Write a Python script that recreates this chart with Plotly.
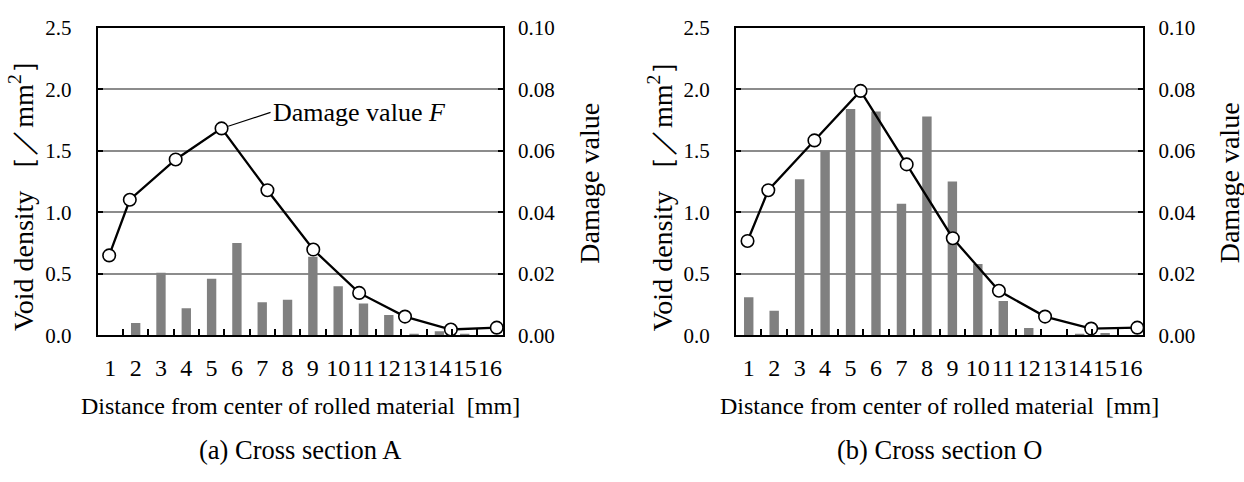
import plotly.graph_objects as go

# Radial bins (1..16) used for the void-density histogram
bins = [str(i) for i in range(1, 17)]

# Void density per bin [1/mm^2]
void_a = [0.0, 0.10, 0.51, 0.22, 0.46, 0.75, 0.27, 0.29, 0.64, 0.40, 0.26, 0.165, 0.008, 0.033, 0.005, 0.0]
void_o = [0.31, 0.20, 1.27, 1.50, 1.84, 1.82, 1.07, 1.78, 1.25, 0.58, 0.28, 0.06, 0.0, 0.005, 0.02, 0.0]

# Damage value F along the radius (distance in mm)
dist = [0.25, 0.7, 1.7, 2.7, 3.7, 4.7, 5.7, 6.7, 7.7, 8.7]
damage_a = [0.0260, 0.0441, 0.0572, 0.0673, 0.0472, 0.0279, 0.0138, 0.0061, 0.0019, 0.0025]
damage_o = [0.0307, 0.0472, 0.0634, 0.0795, 0.0556, 0.0316, 0.0145, 0.0061, 0.0022, 0.0025]

subtitles = ["(a) Cross section A", "(b) Cross section O"]

W, H = 1244, 482
FONT = "Liberation Serif, Times New Roman, serif"
BAR = "#808080"
GRID = "#8c8c8c"
YTICK_SIZE = 21
XTICK_SIZE = 24
VTITLE_SIZE = 28
XTITLE_SIZE = 24
SUB_SIZE = 26.5

# plot areas in pixels: (left, right), shared top/bottom
panels = [(97.7, 502.7), (736.0, 1143.3)]
top_px, bottom_px = 16.7, 340.3
ydom = [1 - bottom_px / H, 1 - top_px / H]

fig = go.Figure()
layout = dict(
    width=W, height=H,
    margin=dict(l=0, r=0, t=0, b=0),
    paper_bgcolor="white", plot_bgcolor="white",
    showlegend=False, bargap=0.63,
    font=dict(family=FONT, size=YTICK_SIZE, color="black"),
    annotations=[],
)

for i, (voids, dmg) in enumerate([(void_a, damage_a), (void_o, damage_o)]):
    bx = f"x{2*i+1}" if i else "x"
    by = f"y{2*i+1}" if i else "y"
    lx, ly = f"x{2*i+2}", f"y{2*i+2}"
    bxk = "xaxis" if i == 0 else f"xaxis{2*i+1}"
    byk = "yaxis" if i == 0 else f"yaxis{2*i+1}"
    lxk, lyk = f"xaxis{2*i+2}", f"yaxis{2*i+2}"
    left, right = panels[i]
    xdom = [left / W, right / W]

    fig.add_trace(go.Bar(x=bins, y=voids, marker=dict(color=BAR, line=dict(width=0)),
                         xaxis=bx, yaxis=by))
    fig.add_trace(go.Scatter(
        x=dist, y=dmg, xaxis=lx, yaxis=ly, mode="lines+markers",
        line=dict(color="black", width=2.3),
        marker=dict(symbol="circle", size=12.5, color="white",
                    line=dict(color="black", width=1.6)),
        cliponaxis=False))

    layout[bxk] = dict(
        domain=xdom, anchor=by, type="category",
        categoryorder="array", categoryarray=bins, range=[-0.5, 15.5],
        tickmode="linear", tick0=0, dtick=1, tickangle=0,
        tickson="boundaries", ticks="inside", ticklen=6, tickwidth=1.5,
        tickcolor="black", ticklabelstandoff=10,
        showline=True, linecolor="black", linewidth=2, mirror=True,
        showgrid=False, zeroline=False,
        tickfont=dict(family=FONT, size=XTICK_SIZE))
    layout[lxk] = dict(overlaying=bx, range=[0, 8.83], visible=False, anchor=by)
    layout[byk] = dict(
        domain=ydom, anchor=bx, range=[0, 2.5], dtick=0.5, tick0=0,
        tickformat=".1f", ticks="inside", ticklen=5, tickwidth=1.5,
        tickcolor="black", ticklabelstandoff=20,
        showline=True, linecolor="black", linewidth=2,
        showgrid=True, gridcolor=GRID, gridwidth=1.5, zeroline=False,
        tickfont=dict(family=FONT, size=YTICK_SIZE))
    layout[lyk] = dict(
        overlaying=by, side="right", anchor=bx, range=[0, 0.1],
        dtick=0.02, tick0=0, tickformat=".2f",
        ticks="inside", ticklen=5, tickwidth=1.5, tickcolor="black",
        ticklabelstandoff=9,
        showline=True, linecolor="black", linewidth=2,
        showgrid=False, zeroline=False,
        tickfont=dict(family=FONT, size=YTICK_SIZE))

    cx = (left + right) / 2 / W
    ann = layout["annotations"]
    ann.append(dict(text="Void density\u00a0\uff3b\uff0fmm<sup>2</sup>\uff3d",
                    xref="paper", yref="paper", x=(left - 75.5) / W, y=1 - 186 / H,
                    textangle=-90, showarrow=False, xanchor="center", yanchor="middle",
                    font=dict(family=FONT, size=VTITLE_SIZE)))
    ann.append(dict(text="Damage value",
                    xref="paper", yref="paper", x=(right + 86) / W, y=1 - 180 / H,
                    textangle=-90, showarrow=False, xanchor="center", yanchor="middle",
                    font=dict(family=FONT, size=VTITLE_SIZE)))
    ann.append(dict(text="Distance from center of rolled material\u00a0\u00a0[mm]",
                    xref="paper", yref="paper", x=cx, y=1 - 415 / H,
                    showarrow=False, xanchor="center", yanchor="middle",
                    font=dict(family=FONT, size=XTITLE_SIZE)))
    ann.append(dict(text=subtitles[i],
                    xref="paper", yref="paper", x=cx, y=1 - 461 / H,
                    showarrow=False, xanchor="center", yanchor="middle",
                    font=dict(family=FONT, size=SUB_SIZE)))

# leader label pointing at the peak damage value of section A
peak = damage_a.index(max(damage_a))
layout["annotations"].append(dict(
    text="Damage value <i>F</i>", xref="x2", yref="y2",
    x=dist[peak], y=damage_a[peak], ax=49, ay=-16,
    xanchor="left", yanchor="middle", showarrow=True,
    arrowhead=0, arrowwidth=1.2, arrowcolor="black", standoff=7,
    font=dict(family=FONT, size=26)))

fig.update_layout(**layout)
fig.write_html("out.html")
